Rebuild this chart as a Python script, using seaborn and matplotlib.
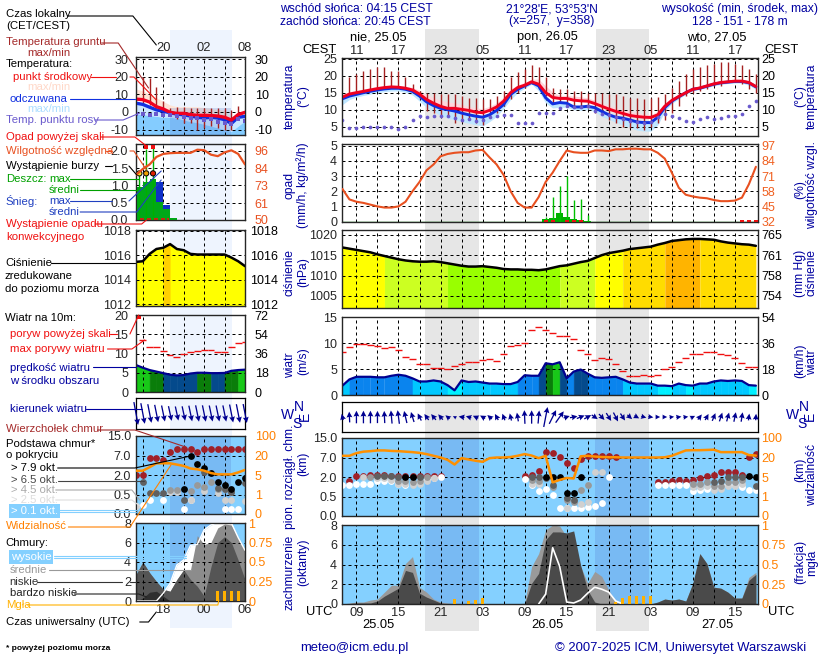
import numpy as np
import matplotlib
matplotlib.use('Agg')
import matplotlib.pyplot as plt
import seaborn as sns
from matplotlib.lines import Line2D
from matplotlib.patches import Rectangle
from matplotlib.ticker import NullLocator

sns.set_style('white')
plt.rcParams['font.family'] = ['Liberation Sans', 'DejaVu Sans']

# main chart, hourly, hours counted from 25.05 00 UTC
hours = list(range(7, 67))
temp_mid = [13.7, 14.6, 15.0, 15.4, 15.8, 16.2, 16.5, 16.7, 16.6, 16.3,
            15.8, 14.6, 13.0, 11.9, 11.0, 10.4, 10.4, 10.1, 9.8, 9.3,
            9.1, 9.8, 10.8, 12.5, 15.0, 16.5, 17.2, 18.2, 17.5, 15.0,
            13.6, 13.3, 13.3, 12.8, 12.6, 12.5, 11.8, 11.0, 10.2, 9.5,
            8.9, 8.3, 8.0, 7.8, 7.7, 8.5, 11.0, 12.7, 13.9, 15.0,
            16.0, 16.4, 17.0, 17.6, 18.0, 18.2, 18.4, 18.4, 18.0, 16.8]
temp_feel = [13.2, 14.0, 14.5, 15.0, 15.4, 15.8, 16.1, 16.3, 16.3, 16.0,
             15.4, 14.0, 12.3, 11.2, 10.4, 10.0, 9.6, 9.0, 8.5, 8.1,
             7.8, 8.5, 9.8, 11.5, 14.5, 16.0, 17.0, 18.0, 17.0, 13.5,
             11.7, 12.1, 11.9, 10.8, 10.8, 11.0, 10.6, 9.5, 8.5, 7.8,
             7.5, 7.0, 6.4, 6.2, 6.2, 7.8, 10.6, 12.5, 13.8, 15.0,
             16.0, 16.3, 16.9, 17.5, 17.9, 18.1, 18.3, 18.3, 17.9, 16.7]
temp_hi = [14.5, 15.3, 15.7, 16.1, 16.5, 16.8, 17.0, 17.2, 17.1, 16.9,
           16.5, 15.7, 14.5, 13.5, 12.8, 12.3, 12.0, 11.5, 11.0, 10.5,
           10.3, 11.0, 12.0, 13.7, 16.0, 17.3, 18.0, 19.0, 19.0, 17.0,
           15.2, 14.2, 14.2, 14.0, 13.8, 13.5, 12.8, 12.0, 11.3, 10.5,
           10.0, 9.6, 9.0, 8.7, 8.5, 9.5, 12.0, 13.5, 14.5, 15.6,
           16.5, 17.0, 17.5, 18.0, 18.5, 18.7, 18.9, 19.0, 18.6, 17.4]
temp_lo = [11.5, 13.0, 13.7, 14.2, 14.6, 15.0, 15.3, 15.5, 15.5, 15.1,
           14.3, 12.5, 10.7, 9.5, 8.3, 7.5, 7.0, 6.5, 6.0, 5.6,
           5.2, 6.5, 8.0, 10.3, 13.0, 15.0, 16.3, 17.5, 15.5, 12.0,
           10.5, 10.7, 10.7, 10.0, 9.8, 10.0, 9.5, 8.0, 7.2, 6.3,
           5.5, 4.8, 4.0, 3.7, 3.7, 5.5, 9.5, 11.8, 13.2, 14.5,
           15.5, 16.0, 16.5, 17.0, 17.4, 17.7, 17.8, 17.8, 17.2, 16.0]
ground_max = [np.nan, 19.5, 20.5, 21.5, 22.0, 22.5, 22.5, 21.5, 21.5, 19.5,
              17.5, 15.5, 15.0, 15.0, 14.5, 14.5, 14.5, 14.0, 13.5, 13.5,
              13.0, 13.0, 14.0, 15.5, 19.5, 21.0, 22.0, 23.0, 22.5, 19.5,
              16.5, 16.0, 16.0, 15.5, 15.5, 15.0, 15.0, 15.0, 14.5, 14.5,
              14.0, 13.5, 13.5, 13.2, 13.5, 13.7, 14.5, 16.5, 18.5, 20.5,
              22.0, 22.5, 23.0, 23.5, 24.0, 24.0, 23.5, 23.0, 22.0, 20.5]
ground_min = [np.nan, 14.0, 14.5, 15.5, 16.0, 16.3, 16.5, 16.7, 16.5, 16.0,
              15.0, 13.0, 9.5, 9.0, 8.5, 8.0, 6.0, 6.5, 7.0, 6.0,
              5.5, 8.0, 9.0, 11.0, 13.0, 15.0, 16.5, 17.5, 16.0, 14.0,
              12.0, 12.0, 11.0, 11.0, 11.0, 10.5, 9.0, 8.5, 7.0, 6.0,
              5.0, 4.5, 4.5, 4.0, 5.0, 6.0, 7.0, 9.0, 11.0, 14.0,
              15.0, 15.5, 16.0, 17.0, 17.0, 18.0, 18.0, 17.5, 16.0, 15.0]
dew_point = [7.0, 4.5, 4.7, 5.0, 5.0, 4.8, 5.0, 4.8, 4.4, 5.0,
             7.0, 8.0, 7.8, 8.1, 8.0, 8.0, 7.5, 7.0, 7.2, 6.8,
             7.0, 7.8, 8.2, 8.5, 8.3, 6.0, 6.0, 6.2, 9.0, 9.0,
             9.0, 10.5, 11.2, 10.7, 10.8, 11.0, 9.7, 8.8, 8.3, 7.8,
             7.3, 6.7, 6.3, 6.1, 6.4, 7.8, 8.8, 8.2, 7.7, 6.6,
             6.5, 7.3, 7.9, 7.4, 7.6, 8.2, 8.1, 8.6, 11.0, 12.7]
humidity = [60, 51, 49, 48, 46.5, 45, 44, 44, 45, 49,
            58, 66, 76, 81, 88, 90, 91, 91.5, 91.5, 93,
            93.5, 87, 81, 72, 58, 48, 44, 44, 53, 66,
            74, 84, 93, 91.5, 91, 91, 93, 93, 92.5, 94,
            94, 94.5, 94.5, 94, 94, 91, 86, 74, 61, 55,
            53.5, 52.5, 52, 50.5, 49.5, 49.5, 50, 52.5, 64, 79]
rain_hours = [36, 37, 38, 39, 40, 41, 42]
rain_mean = [0.15, 0.22, 0.55, 0.3, 0.15, 0.1, 0.05]
rain_max = [0.3, 1.65, 2.35, 3.0, 1.45, 1.5, 0.4]
convective_hours = [36, 37, 39, 40, 41, 64, 65, 66]
pressure = [1016.9, 1016.6, 1016.3, 1016.0, 1015.7, 1015.2, 1014.8, 1014.4, 1014.0, 1013.7,
            1013.5, 1013.4, 1013.4, 1013.5, 1013.3, 1013.0, 1012.7, 1012.4, 1012.2, 1012.2,
            1012.3, 1012.1, 1011.9, 1011.6, 1011.5, 1011.5, 1011.4, 1011.4, 1011.3, 1011.5,
            1011.9, 1012.3, 1012.5, 1012.9, 1013.3, 1013.6, 1014.3, 1015.0, 1015.5, 1015.8,
            1016.1, 1016.5, 1016.7, 1016.9, 1017.1, 1017.6, 1018.0, 1018.5, 1018.7, 1018.9,
            1019.0, 1019.0, 1018.9, 1018.8, 1018.4, 1018.1, 1017.9, 1017.7, 1017.6, 1017.3]
wind_mean = [1.8, 3.0, 3.5, 3.5, 3.5, 3.4, 3.4, 3.7, 3.9, 3.7,
             3.2, 2.6, 2.6, 2.8, 2.6, 1.9, 0.9, 2.8, 2.5, 2.6,
             2.4, 2.2, 2.2, 2.1, 2.1, 2.5, 3.8, 3.7, 3.7, 6.1,
             5.9, 6.3, 3.2, 4.5, 4.9, 4.1, 3.4, 3.3, 3.4, 3.5,
             3.0, 2.4, 2.2, 2.2, 2.2, 1.8, 1.8, 1.7, 2.2, 1.9,
             1.8, 2.2, 2.2, 2.6, 2.8, 2.7, 2.8, 2.7, 1.9, 1.8]
wind_gust = [8.2, 9.2, 9.8, 9.8, 9.7, 9.5, 9.0, 9.2, 8.6, 7.4,
             7.0, 6.0, 6.0, 5.2, 5.2, 5.0, 5.6, 6.0, 6.4, 6.4,
             6.8, 7.0, 6.6, 7.8, 9.4, 9.6, 10.0, 12.5, 13.0, 12.5,
             12.0, 11.4, 11.4, 10.8, 8.6, 7.9, 6.8, 7.2, 7.0, 6.0,
             4.7, 3.6, 3.6, 3.8, 3.6, 3.8, 5.0, 5.4, 6.3, 7.2,
             7.8, 7.8, 8.2, 8.2, 7.8, 7.6, 7.2, 6.2, 5.4, 5.4]
wind_dir = [340, 355, 0, 0, 0, 0, 355, 350, 345, 335,
            330, 320, 310, 305, 305, 300, 300, 275, 280, 285,
            290, 300, 320, 330, 340, 345, 355, 0, 10, 25,
            50, 60, 80, 85, 80, 75, 110, 120, 130, 135,
            130, 120, 110, 100, 95, 90, 90, 85, 85, 85,
            70, 50, 40, 35, 30, 25, 20, 15, 10, 5]
visibility = [27, 27, 38, 44, 46, 49, 49, 47, 46, 44,
              42, 39, 34, 27, 20, 18.2, 14.6, 19.5, 18.5, 17.5,
              16.7, 19.5, 20, 20, 22, 27, 34, 28, 19.5, 27,
              3.9, 4.4, 4.8, 4.7, 25, 27, 24, 22, 21, 21,
              20, 20, 20, 20, 20, 20, 21, 27, 38, 49,
              50, 50, 51, 52, 42, 42, 42, 42, 30, 28]
cloud_mid = [0, 0.1, 0.2, 0.2, 0.4, 0.5, 1.2, 1.9, 1.9, 4.1,
             4.8, 1.7, 1.2, 0.5, 0.2, 0.1, 0, 0, 0, 0,
             0, 0, 0, 0, 0, 0, 0.1, 3.8, 5.1, 7.5,
             8.0, 7.9, 6.8, 6.2, 3.8, 2.1, 3.3, 2.8, 1.4, 0.2,
             0, 0, 0, 0, 0, 0.2, 0.5, 0.4, 0.5, 0.3,
             2.1, 5.1, 4.1, 1.7, 1.6, 1.2, 0.6, 0.6, 2.7, 3.2]
cloud_low = [0, 0.05, 0.1, 0.1, 0.1, 0.3, 0.8, 1.2, 1.6, 3.4,
             3.2, 1.1, 0.7, 0.4, 0.1, 0, 0, 0, 0, 0,
             0, 0, 0, 0, 0, 0, 0, 2.1, 3.1, 6.5,
             7.3, 7.3, 7.2, 7.4, 3.9, 1.4, 0.2, 0, 0, 0,
             0, 0, 0, 0, 0, 0.2, 0.5, 0.4, 0.5, 0.3,
             2.1, 5.1, 4.1, 1.7, 1.6, 1.2, 0.6, 0.6, 2.4, 3.0]
cloud_high_h = [35, 36, 37, 38, 39, 40, 41, 42, 43, 44, 45, 46, 47]
cloud_high = [0, 1.0, 5.7, 3.8, 0.2, 0.1, 0.4, 1.1, 1.7, 1.5, 1.2, 0.3, 0]
fog_hours = [23, 25, 26, 27, 46, 47, 48, 49, 50, 51]
fog_frac = [0.06, 0.04, 0.05, 0.07, 0.03, 0.08, 0.1, 0.1, 0.1, 0.1]
# cloud base per cover class: (hours, km)
base_top_h = [8, 9, 10, 11, 12, 13, 14, 15, 16, 17, 18, 19, 20, 21,
              33, 34, 35, 36, 37, 38, 39, 40, 41, 42, 43, 44, 45, 46,
              52, 53, 54, 55, 56, 57, 58, 59, 60, 61, 62, 63, 64, 65, 66]
base_top = [1.7, 2.3, 2.3, 2.4, 2.5, 2.4, 2.3, 2.3, 2.3, 2.3, 2.3, 2.3, 2.3, 2.3,
            2.2, 2.5, 3.6, 9.4, 8.7, 7.3, 5.6, 4.3, 6.6, 7.7, 7.5, 7.7, 7.6, 7.4,
            1.6, 1.6, 1.7, 1.8, 1.7, 1.8, 1.9, 2.3, 2.6, 3.2, 3.3, 3.3, 2.6, 7.2, 8.5]
base_79_h = [16, 17, 36, 37, 38, 39, 40, 41, 65, 66]
base_79 = [2.1, 2.1, 2.0, 2.0, 2.0, 0.75, 0.75, 2.1, 2.2, 2.1]
base_65_h = [12, 13, 14, 15, 18, 34, 35, 36, 37, 39, 40, 60, 61, 62, 63, 64, 66]
base_65 = [2.2, 2.2, 2.2, 2.1, 2.0, 2.1, 2.0, 1.9, 1.4, 0.45, 0.4, 1.6, 1.7, 2.0, 2.0, 2.0, 1.3]
base_45_h = [11, 15, 16, 17, 18, 19, 34, 35, 37, 39, 40, 41, 42, 57, 58, 59, 60, 61, 62, 63, 64]
base_45 = [2.1, 1.7, 1.7, 1.6, 1.7, 2.0, 1.8, 1.7, 1.2, 0.4, 0.35, 1.0, 1.4, 1.5, 1.5, 1.6, 1.3, 1.3, 1.6, 1.6, 1.8]
base_25_h = [10, 12, 13, 14, 15, 16, 17, 18, 19, 20, 34, 35, 39, 41, 42, 43, 44, 57, 58, 59, 60, 61, 62, 63, 64]
base_25 = [2.1, 1.9, 1.9, 1.8, 1.5, 1.5, 1.4, 1.5, 1.7, 1.9, 1.5, 1.5, 0.2, 0.3, 0.35, 3.2, 3.4, 1.2, 1.2, 1.3, 1.0, 1.1, 1.3, 1.3, 1.5]
base_01_h = [7, 8, 9, 10, 11, 12, 13, 14, 15, 16, 17, 18, 19, 20, 21,
             33, 34, 35, 36, 37, 38, 39, 40, 41, 42, 43, 44, 45,
             52, 53, 54, 55, 56, 57, 58, 59, 60, 61, 62, 63, 64, 65, 66]
base_01 = [1.4, 1.4, 1.5, 1.5, 1.5, 1.7, 1.7, 1.7, 1.5, 1.4, 1.55, 1.7, 1.85, 1.9, 2.1,
           1.85, 1.4, 0.9, 1.05, 0.65, 0.2, 0.2, 0.2, 0.2, 0.22, 0.25, 0.33, 2.1,
           1.4, 1.4, 1.4, 1.4, 1.4, 0.95, 1.0, 1.1, 1.2, 1.35, 1.4, 1.4, 1.2, 1.0, 1.0]

# small key chart on the left
key_hours = list(range(14, 31))
key_mid = [7.3, 7.0, 5.6, 3.0, 1.7, -0.2, -0.8, -0.8, -1.5, -1.9, -1.9, -2.0, -2.3, -3.0, -4.6, -1.5, -0.2]
key_feel = [5.0, 4.3, 2.7, 1.2, 0.4, -0.4, -1.2, -1.6, -2.3, -3.0, -3.4, -3.0, -3.4, -4.4, -6.5, -3.0, -2.5]
key_hi = [13, 12, 10, 8, 6, 4, 3, 3, 3, 3, 2.5, 2, 1.5, 1, -3.5, 0, 1]
key_lo = [-1, -1.5, -2, -2.5, -3, -3, -3.5, -4.5, -5.5, -6, -7, -8, -9, -10, -11, -8, -5]
key_gmax = [np.nan, 20, 19, 14, 6, 2, 3, 3, 2.5, 2.5, 2, 2, 2, 2, 1, 3.5, np.nan]
key_gmin = [np.nan, 5, 4, 2, 0, -2, -4, -6, -6, -10, -9, -8, -9, -10, -10, -2, np.nan]
key_dew = [-1.2, -1, -1.5, -1.3, -1.7, -2, -2.5, -2.7, -3.5, -3.7, -4.7, -4, -5.5, -6, -7, -4, -5]
key_rh = [80, 84, 87, 92, 94, 94.5, 94.7, 94.7, 94.7, 96.8, 96.5, 93.5, 92.5, 95, 96.4, 94, 87]
key_rain = [0.96, 1.1, 1.18, 0.53, 0.33, 0.07]
key_snow = [0, 0, 0, 0.57, 0.1, 0]
key_pressure = [1015.45, 1015.5, 1016.1, 1016.5, 1016.6, 1016.9, 1016.5, 1016.4, 1016.1, 1016.05,
                1016.05, 1016.05, 1016.05, 1016.05, 1015.8, 1015.5, 1015.1]
key_wind = [7, 6.3, 5.7, 5.3, 4.9, 4.5, 4.3, 4.4, 4.8, 5, 5, 4.9, 4.9, 4.95, 5.5, 5.7, 5.8]
key_gust = [np.nan, 13.6, 11.8, 11.6, 10.6, 9.6, 9, 10, 10.4, 10.7, 10.8, 10.8, 10.5, 10.5, 11.6, 12.8, 13]
key_top = [2, 2, 6.25, 6.25, 5.85, 8.6, 9.6, 9.6, 9.6, 8.6, 9.6, 9.6, 9.6, 9.6, 9.6, 9.6, 9.6]
key_79_h, key_79 = [21, 22, 23, 24, 25, 26, 27, 28, 29, 30], [0.92, 6.9, 4.8, 3.7, 2.6, 1.5, 1.2, 0.9, 1.5, 1.8]
key_65_h, key_65 = [15, 16, 17, 18, 21, 24, 26, 27, 28, 30], [1.5, 0.65, 0.65, 0.65, 0.36, 2.8, 1.0, 0.9, 0.7, 1.4]
key_45_h, key_45 = [19, 20, 22, 23, 24, 25, 26, 27, 28], [0.85, 0.85, 0.8, 1.25, 1.1, 1.5, 0.9, 0.95, 0.7]
key_25_h, key_25 = [14, 19, 20, 22, 24, 26, 27, 28, 30], [0.2, 0.7, 0.7, 0.35, 0.75, 0.6, 0.35, 0.35, 0.33]
key_01_h, key_01 = [14, 15, 16, 18, 21, 22, 27, 28, 29], [0.2, 0.23, 0.35, 0.37, 0.12, 0.35, 0.12, 0.12, 0.12]
key_vis = [8.3, 8.3, 11, 14, 14, 14, 13, 12, 10, 9.4, 8.3, 6.5, 5.5, 5.5, 5.5, 7, 8.9]
key_cl_mid = [2.7, 4, 2.9, 2, 1.2, 1, 2.2, 3.2, 3.2, 6.7, 5.8, 6, 7.5, 7.9, 7.8, 6.5, 5.2]
key_cl_low = [2.7, 4, 2.9, 2, 1.2, 1, 2.2, 3.2, 2.2, 1.5, 0.5, 3.5, 6, 6.6, 6, 4.2, 2.2]
key_cl_vlow = [0, 0.3, 0.9, 1, 0.5, 0, 0, 0, 0, 0, 0, 0, 0, 0, 0, 0, 0]
key_cl_high = [0, 0, 0, 0, 0.8, 1.8, 3.7, 4.2, 5.7, 5.8, 7.3, 7.8, 8, 8, 8, 6.5, 5.2]
key_fog_h, key_fog = [26, 27, 28, 29], [0.13, 0.13, 0.13, 0.13]

W, H = 820, 660
NAVY = '#0000A0'
ORANGE = '#FF8000'
RH_COL = '#E85020'
SKY = '#84D0FF'
DASH = (0, (3, 3))
KS = 0.977
KEY_SIZE = 8.2

fig = plt.figure(figsize=(W / 100, H / 100), dpi=100, facecolor='white')


def txt(x, y, s, color='k', size=9.3, ha='left', **kw):
    return fig.text(x / W, 1 - y / H, s, color=color, fontsize=size, ha=ha, va='center', **kw)


def ktxt(x, y, s, color='k', size=KEY_SIZE, **kw):
    return txt(x * KS, y, s, color, size, **kw)


def leader(pts, color='k', lw=0.8):
    xs = [p[0] * KS / W for p in pts]
    ys = [1 - p[1] / H for p in pts]
    fig.add_artist(Line2D(xs, ys, color=color, lw=lw, transform=fig.transFigure, zorder=20))


def band(x0, x1, y0, y1, color):
    fig.add_artist(Rectangle((x0 / W, 1 - y1 / H), (x1 - x0) / W, (y1 - y0) / H, color=color,
                             lw=0, transform=fig.transFigure, zorder=-5))


def panel(x0, x1, y0, y1, xlim, ylim, yticks, ylabels, grid_x, pad_l=3.5):
    ax = fig.add_axes([x0 / W, 1 - y1 / H, (x1 - x0) / W, (y1 - y0) / H], facecolor='none')
    ax.set_xlim(*xlim)
    ax.set_ylim(*ylim)
    ax.set_xticks(grid_x, [''] * len(grid_x))
    ax.set_yticks(yticks, ylabels)
    ax.tick_params(length=0, labelsize=9, pad=pad_l)
    ax.grid(True, color='k', ls=DASH, lw=0.72)
    ax.set_axisbelow(False)
    for s in ax.spines.values():
        s.set_linewidth(0.9)
        s.set_color('k')
    return ax


def right_axis(ax, ylim, ticks, labels, color='k', pad=2.5):
    tw = ax.twinx()
    tw.set_ylim(*ylim)
    tw.set_yticks(ticks, labels)
    tw.tick_params(length=0, labelsize=9, pad=pad, labelcolor=color)
    tw.grid(False)
    return tw


def line(ax, x, y, color, lw=1.5, z=5):
    sns.lineplot(x=x, y=y, ax=ax, color=color, lw=lw, zorder=z, errorbar=None, estimator=None)
    ax.set_xlabel('')
    ax.set_ylabel('')


def dots(ax, x, y, color, s=24, z=6, **kw):
    sns.scatterplot(x=x, y=y, ax=ax, color=color, s=s, zorder=z, linewidth=0, legend=False, **kw)
    ax.set_xlabel('')
    ax.set_ylabel('')


def base_fwd(v):
    return np.interp(v, [0, 0.5, 2, 7, 15], [0, 1, 2, 3, 4])


def base_inv(v):
    return np.interp(v, [0, 1, 2, 3, 4], [0, 0.5, 2, 7, 15])


def vis_fwd(v):
    return np.interp(v, [0, 1, 5, 20, 100], [0, 1, 2, 3, 4])


def vis_inv(v):
    return np.interp(v, [0, 1, 2, 3, 4], [0, 1, 5, 20, 100])


def wind_colour(v, bright=6.05):
    if v >= bright:
        return '#18C818'
    if v >= 4.95:
        return '#0A7D0A'
    if v >= 3.95:
        return '#044A8C'
    if v >= 2.95:
        return '#0A84EE'
    if v >= 1.95:
        return '#00C8FF'
    return '#00F0FF'


def wind_fill(ax, x, v, bright=6.05):
    for i in range(len(x) - 1):
        c = wind_colour((v[i] + v[i + 1]) / 2, bright)
        ax.fill_between(x[i:i + 2], v[i:i + 2], 0, facecolor=c, edgecolor=c, lw=0.4, zorder=1)


def arrows(ax, x, direction, speed):
    d = np.radians(direction)
    s = np.array(speed)
    # sideways arrows stay short and keep a minimum length, as in the original
    ax.quiver(x, np.zeros(len(x)), np.sin(d) * (3 + s), np.cos(d) * s * 3.6,
              angles='uv', scale_units='dots', scale=1, units='dots', width=1.3, pivot='mid',
              headwidth=4.5, headlength=4.5, headaxislength=4, color='#000090', zorder=5, clip_on=False)


def base_layers(ax, top, layers):
    ax.set_facecolor(SKY)
    dots(ax, top[0], top[1], '#A02028', z=6)
    for (x, y), c, z in zip(layers, ['white', '#D0D0D0', '#999999', '#606060', 'black'], [7, 8, 9, 10, 11]):
        dots(ax, x, y, c, z=z)


# backgrounds
band(170, 232, 30, 628, '#EEF4FE')
band(425, 479, 29, 631, '#E6E6E6')
band(596, 649, 29, 631, '#E6E6E6')

MX0, MX1 = 342, 758
KX0, KX1 = 136, 245
xlim_main = (6.94, 66.3)
xlim_key = (14, 30)
grid_main = list(range(9, 66, 3))
grid_key = list(range(15, 30, 3))
nights = [(18.76, 26.47), (43.1, 50.7)]

# ---- temperature
ax = panel(MX0, MX1, 58, 136, xlim_main, (2.26, 25.2), [5, 10, 15, 20, 25], ['5', '10', '15', '20', '25'], grid_main)
ax.fill_between(hours, temp_mid, temp_hi, color='#FFD6DC', lw=0, zorder=1)
ax.fill_between(hours, temp_lo, temp_feel, color='#BEE6FF', lw=0, zorder=1)
ax.vlines(hours, ground_min, ground_max, color='#A52020', lw=1, zorder=3)
line(ax, hours, temp_feel, '#1030E0', 2.1, 4)
line(ax, hours, temp_mid, '#F00020', 2.1, 5)
dots(ax, hours, dew_point, '#6A5ACD', s=7)
ax.set_xticks(grid_main, [f'{(h + 2) % 24:02d}' if (h - 9) % 6 == 0 else '' for h in grid_main])
ax.xaxis.tick_top()
ax.tick_params(axis='x', labelsize=9.3, pad=1, length=0)
right_axis(ax, ax.get_ylim(), [5, 10, 15, 20, 25], ['5', '10', '15', '20', '25'])

# ---- precipitation and humidity
ax = panel(MX0, MX1, 144, 222, xlim_main, (-0.03, 5.12), [0, 1, 2, 3, 4, 5], list('012345'), grid_main)
ax.plot(xlim_main, [0, 0], color='#008000', lw=1, zorder=2)
ax.bar(rain_hours, rain_mean, width=1, color='#00B000', lw=0, zorder=3)
ax.vlines(rain_hours, 0, rain_max, color='#00C000', lw=1, zorder=3)
dots(ax, convective_hours, [0] * len(convective_hours), '#F01010', s=8, marker='s')
tw = right_axis(ax, (32 - 0.03 * 13, 32 + 5.12 * 13), [32, 45, 58, 71, 84, 97],
                ['32', '45', '58', '71', '84', '97'], color='#F06020')
line(tw, hours, humidity, RH_COL, 1.5, 5)

# ---- pressure
p_bands = [(7, 13, '#FFFF00'), (13, 22, '#CCFF22'), (22, 38, '#99FF00'), (38, 43, '#CCFF22'),
           (43, 47, '#FFFF00'), (47, 53, '#FFDC00'), (53, 58, '#FFB400'), (58, 67, '#FFDC00')]
ax = panel(MX0, MX1, 230, 308, xlim_main, (1002, 1021.2), [1005, 1010, 1015, 1020],
           ['1005', '1010', '1015', '1020'], grid_main)
hr = np.array(hours)
pr = np.array(pressure)
for a, b, c in p_bands:
    m = (hr >= a) & (hr <= b)
    ax.fill_between(hr[m], pr[m], 1000, color=c, lw=0, zorder=1)
line(ax, hours, pressure, 'black', 1.8, 5)
right_axis(ax, ax.get_ylim(), [1005, 1010, 1015, 1020], ['754', '758', '761', '765'])

# ---- wind
ax = panel(MX0, MX1, 317, 395, xlim_main, (0, 15), [0, 5, 10, 15], ['0', '5', '10', '15'], grid_main)
wind_fill(ax, hours, wind_mean)
line(ax, hours, wind_mean, '#000090', 1.6, 5)
ax.hlines(wind_gust, np.array(hours) - 0.5, np.array(hours) + 0.5, color='#F01010', lw=1, zorder=6)
right_axis(ax, ax.get_ylim(), [0, 5, 10, 15], ['0', '18', '36', '54'])

# ---- wind direction
ax = panel(MX0, MX1, 402, 432, xlim_main, (-1, 1), [], [], grid_main)
ax.grid(False)
arrows(ax, hours, wind_dir, wind_mean)

# ---- cloud base and visibility
ticks_km = [0, 0.5, 2, 7, 15]
ax = panel(MX0, MX1, 438, 516, xlim_main, (0, 15), ticks_km, ['0.0', '0.5', '2.0', '7.0', '15.0'], grid_main)
ax.set_yscale('function', functions=(base_fwd, base_inv))
ax.set_ylim(0, 15)
ax.set_yticks(ticks_km, ['0.0', '0.5', '2.0', '7.0', '15.0'])
ax.yaxis.set_minor_locator(NullLocator())
for a, b in nights:
    ax.axvspan(a, b, color='#5F88D8', alpha=0.3, lw=0, zorder=0.5)
base_layers(ax, (base_top_h, base_top), [(base_01_h, base_01), (base_25_h, base_25), (base_45_h, base_45),
                                         (base_65_h, base_65), (base_79_h, base_79)])
tw = ax.twinx()
tw.set_yscale('function', functions=(vis_fwd, vis_inv))
tw.set_ylim(0, 100)
tw.set_yticks([0, 1, 5, 20, 100], ['0', '1', '5', '20', '100'])
tw.yaxis.set_minor_locator(NullLocator())
tw.tick_params(length=0, labelsize=9, pad=2.5, labelcolor=ORANGE)
line(tw, hours, visibility, '#FF9000', 1.8, 12)

# ---- cloud cover and fog
ax = panel(MX0, MX1, 525, 604, xlim_main, (0, 8), [0, 2, 4, 6, 8], list('02468'), grid_main)
ax.set_facecolor(SKY)
for a, b in nights:
    ax.axvspan(a, b, color='#5F88D8', alpha=0.3, lw=0, zorder=0.5)
ax.fill_between(hours, cloud_mid, color='#9A9A9A', lw=0, zorder=1)
ax.fill_between(hours, cloud_low, color='#4A4A4A', lw=0, zorder=1.2)
line(ax, cloud_high_h, cloud_high, 'white', 1.2, 3)
ax.set_xticks(grid_main, [f'{h % 24:02d}' if (h - 9) % 6 == 0 else '' for h in grid_main])
ax.tick_params(axis='x', labelsize=9.3, pad=2, length=0)
tw = right_axis(ax, (0, 1), [0, 0.25, 0.5, 0.75, 1], ['0', '0.25', '0.5', '0.75', '1'], color=ORANGE)
tw.bar(fog_hours, fog_frac, width=0.4, color='#FFB000', lw=0, zorder=5)

# ---- key chart: temperature
tk = [-10, 0, 10, 20, 30]
tl = ['-10', '0', '10', '20', '30']
ax = panel(KX0, KX1, 57, 134.7, xlim_key, (-12.9, 31.2), tk, tl, grid_key, pad_l=5.7)
ax.fill_between(key_hours, key_mid, key_hi, color='#FFE4D6', lw=0, zorder=1)
ax.fill_between(key_hours, key_feel, key_lo, color='#CBE6FF', lw=0, zorder=1)
ax.fill_between(key_hours, key_lo, -13, color='#84CCFF', lw=0, zorder=1.2)
ax.axvspan(19, 28, color='#5F88D8', alpha=0.25, ymax=0.35, lw=0, zorder=1.3)
ax.vlines(key_hours, key_gmin, key_gmax, color='#A52020', lw=1, zorder=3)
line(ax, key_hours, key_feel, '#1030E0', 2.4, 4)
line(ax, key_hours, key_mid, '#F00020', 2.4, 5)
dots(ax, key_hours, key_dew, '#6A5ACD', s=7, marker='s')
ax.set_xticks(grid_key + [30], ['', '20', '', '02', '', '08'])
ax.xaxis.tick_top()
ax.tick_params(axis='x', labelsize=9.3, pad=2, length=0)
right_axis(ax, ax.get_ylim(), tk, tl, pad=7)

# ---- key chart: precipitation
ax = panel(KX0, KX1, 144, 220, xlim_key, (0, 2.2), [0, 0.5, 1, 1.5, 2], ['0.0', '0.5', '1.0', '1.5', '2.0'],
           grid_key, pad_l=5.7)
rain_x = [14.5, 15.5, 16.5, 17.5, 18.5, 19.5]
ax.bar(rain_x, key_rain, width=1, color='#00A818', lw=0, zorder=3)
ax.bar(rain_x, key_snow, width=1, bottom=key_rain, color='#1030C8', lw=0, zorder=3)
ax.vlines([14.5, 15.5, 16.5], 0, [1.3, 2.05, 2.1], color='#00B000', lw=1, zorder=3)
dots(ax, [15.5, 16.5], [2.1, 2.12], '#F01010', s=9, marker='s', clip_on=False)
ax.scatter([14.5, 15.5, 16.5], [1.35, 1.35, 1.35], c=['#FFE020', '#F0A000', '#E02000'], s=14,
           edgecolors='k', linewidths=0.7, zorder=7)
ax.hlines([0.02] * 5, [14.6, 15.6, 16.6, 17.6, 18.6], [15.2, 16.2, 17.2, 18.2, 18.8], color='#F01010', lw=1.2, zorder=6)
tw = right_axis(ax, (50, 50 + 2.2 * 23), [50, 61, 73, 84, 96], ['50', '61', '73', '84', '96'], color='#E85020', pad=7)
line(tw, key_hours, key_rh, RH_COL, 1.6, 5)

# ---- key chart: pressure
ax = panel(KX0, KX1, 230, 306, xlim_key, (1011.85, 1018.05), [1012, 1014, 1016, 1018],
           ['1012', '1014', '1016', '1018'], grid_key, pad_l=3.5)
ax.fill_between(key_hours, key_pressure, 1011, color='#FFFF00', lw=0, zorder=1)
ax.fill_between(key_hours[4:6], key_pressure[4:6], 1011, color='#FFD000', lw=0, zorder=1.2)
line(ax, key_hours, key_pressure, 'black', 1.8, 5)
right_axis(ax, ax.get_ylim(), [1012, 1014, 1016, 1018], ['1012', '1014', '1016', '1018'], pad=4)

# ---- key chart: wind
ax = panel(KX0, KX1, 315, 392, xlim_key, (0, 20), [0, 5, 10, 15, 20], ['0', '5', '10', '15', '20'], grid_key, pad_l=5.7)
wind_fill(ax, key_hours, key_wind, bright=5.75)
line(ax, key_hours, key_wind, '#000090', 1.6, 5)
ax.hlines(key_gust, np.array(key_hours) - 0.5, np.array(key_hours) + 0.5, color='#F01010', lw=1, zorder=6)
dots(ax, [14.5], [19.6], '#F01010', s=9, marker='s')
right_axis(ax, ax.get_ylim(), [0, 5, 10, 15, 20], ['0', '18', '36', '54', '72'], pad=7)

# ---- key chart: wind direction
ax = panel(KX0, KX1, 398, 429, xlim_key, (-1, 1), [], [], grid_key)
ax.grid(False)
arrows(ax, key_hours, [155] * len(key_hours), key_wind)

# ---- key chart: cloud base
ax = panel(KX0, KX1, 436, 514, xlim_key, (0, 15), ticks_km, ['0.0', '0.5', '2.0', '7.0', '15.0'], grid_key, pad_l=3.5)
ax.set_yscale('function', functions=(base_fwd, base_inv))
ax.set_ylim(0, 15)
ax.set_yticks(ticks_km, ['0.0', '0.5', '2.0', '7.0', '15.0'])
ax.yaxis.set_minor_locator(NullLocator())
ax.axvspan(19, 28, color='#5F88D8', alpha=0.3, lw=0, zorder=0.5)
base_layers(ax, (key_hours, key_top), [(key_01_h, key_01), (key_25_h, key_25), (key_45_h, key_45),
                                       (key_65_h, key_65), (key_79_h, key_79)])
tw = ax.twinx()
tw.set_yscale('function', functions=(vis_fwd, vis_inv))
tw.set_ylim(0, 100)
tw.set_yticks([0, 1, 5, 20, 100], ['0', '1', '5', '20', '100'])
tw.yaxis.set_minor_locator(NullLocator())
tw.tick_params(length=0, labelsize=9, pad=7, labelcolor=ORANGE)
line(tw, key_hours, key_vis, '#FF9000', 1.8, 12)

# ---- key chart: cloud cover
ax = panel(KX0, KX1, 523, 601, xlim_key, (0, 8), [0, 2, 4, 6, 8], list('02468'), grid_key, pad_l=3.5)
ax.set_facecolor(SKY)
ax.axvspan(19, 28, color='#5F88D8', alpha=0.3, lw=0, zorder=0.5)
ax.fill_between(key_hours, key_cl_high, color='white', lw=0, zorder=1)
ax.fill_between(key_hours, key_cl_mid, color='#8C8C8C', lw=0, zorder=1.1)
ax.fill_between(key_hours, key_cl_low, color='#555555', lw=0, zorder=1.2)
ax.fill_between(key_hours, key_cl_vlow, color='#2E2E2E', lw=0, zorder=1.3)
line(ax, key_hours, key_cl_high, 'white', 1, 3)
ax.set_xticks(grid_key + [30], ['', '18', '', '00', '', '06'])
ax.tick_params(axis='x', labelsize=9.3, pad=2, length=0)
tw = right_axis(ax, (0, 1), [0, 0.25, 0.5, 0.75, 1], ['0', '0.25', '0.5', '0.75', '1'], color=ORANGE, pad=2.5)
tw.bar(key_fog_h, key_fog, width=0.45, color='#FFB000', lw=0, zorder=5)

# ---- header
HEAD = 8.75
txt(280, 9, 'wschód słońca: 04:15 CEST', NAVY, HEAD)
txt(280, 22, 'zachód słońca: 20:45 CEST', NAVY, HEAD)
txt(552, 9, "21°28'E, 53°53'N", NAVY, HEAD, ha='center')
txt(552, 21, '(x=257,  y=358)', NAVY, HEAD, ha='center')
txt(818, 9, 'wysokość (min, środek, max)', NAVY, HEAD, ha='right')
txt(740, 22, '128 - 151 - 178 m', NAVY, HEAD, ha='center')
for x, s in [(378, 'nie, 25.05'), (547, 'pon, 26.05'), (717, 'wto, 27.05')]:
    txt(x, 37, s, ha='center')
txt(320, 50, 'CEST', ha='center')
txt(781.5, 50, 'CEST', ha='center')
txt(319, 612, 'UTC', ha='center')
txt(781.5, 612, 'UTC', ha='center')
for x, s in [(378, '25.05'), (547, '26.05'), (717, '27.05')]:
    txt(x, 625, s, ha='center')
txt(354, 648, 'meteo@icm.edu.pl', NAVY, size=9.4, ha='center')
txt(555, 648, '© 2007-2025 ICM, Uniwersytet Warszawski', NAVY, size=9.4)

# ---- rotated axis titles: text and vertical centre
side = [('temperatura', 96, '(°C)', 96, '(°C)', 96, 'temperatura', 96),
        ('opad', 185, '(mm/h, kg/m²/h)', 185, '(%)', 190, 'wilgotność wzgl.', 185),
        ('ciśnienie', 272, '(hPa)', 272, '(mm Hg)', 273, 'ciśnienie', 272),
        ('wiatr', 365, '(m/s)', 361, '(km/h)', 361, 'wiatr', 362),
        ('pion. rozciągł. chm.', 477, '(km)', 464, '(km)', 470, 'widzialność', 475),
        ('zachmurzenie', 572, '(oktanty)', 562, '(frakcja)', 562, 'mgła', 563)]
for a, ya, b, yb, c, yc, d, yd in side:
    txt(290, ya, a, NAVY, 8.7, ha='center', rotation=90)
    txt(303, yb, b, NAVY, 8.7, ha='center', rotation=90)
    txt(800, yc, c, NAVY, 8.7, ha='center', rotation=90)
    txt(812, yd, d, NAVY, 8.7, ha='center', rotation=90)
for x0 in (288, 793):
    txt(x0, 415, 'W', NAVY, size=10, ha='center')
    txt(x0 + 11, 407, 'N', NAVY, size=10, ha='center')
    txt(x0 + 9, 424, 'S', NAVY, size=10, ha='center')
    txt(x0 + 17, 416, 'E', NAVY, size=10, ha='center', rotation=90)

# ---- key texts and leader lines
BROWN = '#A52A2A'
RED = '#F01010'
GREEN = '#00A000'
SNOW = '#2040C0'
ktxt(6, 14, 'Czas lokalny')
ktxt(6, 26, '(CET/CEST)')
leader([(69, 16), (136, 16), (160, 45)])
ktxt(6, 42, 'Temperatura gruntu', BROWN)
ktxt(28, 53, 'max/min', BROWN)
leader([(104, 43), (121, 43), (152, 88)], BROWN)
ktxt(6, 64, 'Temperatura:')
ktxt(13, 77, 'punkt środkowy', RED)
ktxt(28, 87, 'max/min', '#FFD8C8')
leader([(93, 77), (119, 77)], RED)
leader([(133, 77), (137, 77), (160, 100)], RED)
ktxt(10, 99, 'odczuwana', '#1030E0')
ktxt(28, 109, 'max/min', '#AADDFF')
leader([(72, 99), (138, 99)], '#1030E0')
ktxt(6, 120, 'Temp. punktu rosy', '#6A5ACD')
leader([(97, 120), (126, 120), (143, 113)], '#6A5ACD')
ktxt(6, 137, 'Opad powyżej skali', RED)
leader([(103, 137), (138, 137), (150, 146)], RED)
ktxt(6, 151, 'Wilgotność względna', RH_COL)
leader([(108, 151), (115, 151)], RH_COL)
leader([(133, 151), (137, 151), (150, 170)], RH_COL)
ktxt(6, 166, 'Wystąpienie burzy')
leader([(107, 166), (115, 166)])
leader([(132, 166), (140, 175)])
ktxt(6, 179, 'Deszcz:', GREEN)
ktxt(50, 179, 'max', GREEN)
leader([(72, 179), (142, 179)], GREEN)
ktxt(50, 190, 'średni', GREEN)
leader([(82, 190), (140, 190)], GREEN)
ktxt(6, 201, 'Śnieg:', SNOW)
ktxt(50, 201, 'max', SNOW)
leader([(72, 201), (115, 201)], SNOW)
leader([(132, 201), (165, 171)], SNOW)
ktxt(50, 212, 'średni', SNOW)
leader([(82, 212), (140, 212), (165, 180)], SNOW)
ktxt(6, 224, 'Wystąpienie opadu', RED)
ktxt(6, 237, 'konwekcyjnego', RED)
leader([(97, 224), (145, 224), (150, 220)], RED)
ktxt(5, 263, 'Ciśnienie')
leader([(52, 263), (138, 263)])
ktxt(5, 276, 'zredukowane')
ktxt(5, 289, 'do poziomu morza')
ktxt(5, 318, 'Wiatr na 10m:')
ktxt(10, 334, 'poryw powyżej skali', RED)
leader([(113, 334), (120, 334)], RED)
leader([(133, 334), (142, 315)], RED)
ktxt(10, 349, 'max porywy wiatru', RED)
leader([(110, 349), (135, 349), (148, 340)], RED)
ktxt(10, 368, 'prędkość wiatru', NAVY)
leader([(95, 367), (139, 367)], NAVY)
ktxt(10, 381, 'w środku obszaru', NAVY)
ktxt(10, 409, 'kierunek wiatru', NAVY)
leader([(88, 409), (145, 409)], NAVY)
ktxt(6, 429, 'Wierzchołek chmur', BROWN)
leader([(100, 430), (138, 430), (190, 447)], BROWN)
ktxt(6, 444, 'Podstawa chmur*')
ktxt(6, 455, 'o pokryciu')
ktxt(11, 468, '> 7.9 okt.')
leader([(59, 468), (138, 468), (195, 456)])
ktxt(11, 480, '> 6.5 okt.', '#444444')
leader([(59, 481), (147, 481)], '#444444')
ktxt(11, 490, '> 4.5 okt.', '#AAAAAA')
leader([(57, 490), (135, 490), (143, 500)], '#AAAAAA')
ktxt(11, 500, '> 2.5 okt.', '#DDDDDD')
leader([(57, 500), (135, 500), (143, 506)], '#DDDDDD')
ktxt(11, 511, '> 0.1 okt.', 'white', bbox=dict(fc=SKY, ec='none', pad=1.2))
leader([(57, 510), (139, 510)], SKY)
leader([(57, 512), (139, 512)], SKY)
ktxt(6, 526, 'Widzialność', ORANGE)
leader([(70, 527), (133, 527), (175, 465)], ORANGE)
ktxt(6, 543, 'Chmury:')
ktxt(11, 557, 'wysokie', 'white', bbox=dict(fc=SKY, ec='none', pad=1.2))
leader([(55, 556), (190, 556)], SKY)
leader([(55, 558), (190, 558)], SKY)
ktxt(10, 570, 'średnie', '#999999')
leader([(50, 570), (195, 570)], '#999999')
ktxt(10, 582, 'niskie', '#333333')
leader([(38, 582), (125, 582)], '#333333')
leader([(133, 582), (139, 582)], '#333333')
ktxt(10, 593, 'bardzo niskie', '#222222')
leader([(76, 594), (142, 594), (150, 597)], '#222222')
ktxt(6, 605, 'Mgła', '#FFB000')
leader([(28, 605), (223, 605), (224, 600)], '#FFB000')
ktxt(6, 622, 'Czas uniwersalny (UTC)')
leader([(143, 622), (152, 622), (160, 612)])
ktxt(6, 648, '* powyżej poziomu morza', size=6.1, fontweight='bold')

fig.savefig('out.png', dpi=100)
